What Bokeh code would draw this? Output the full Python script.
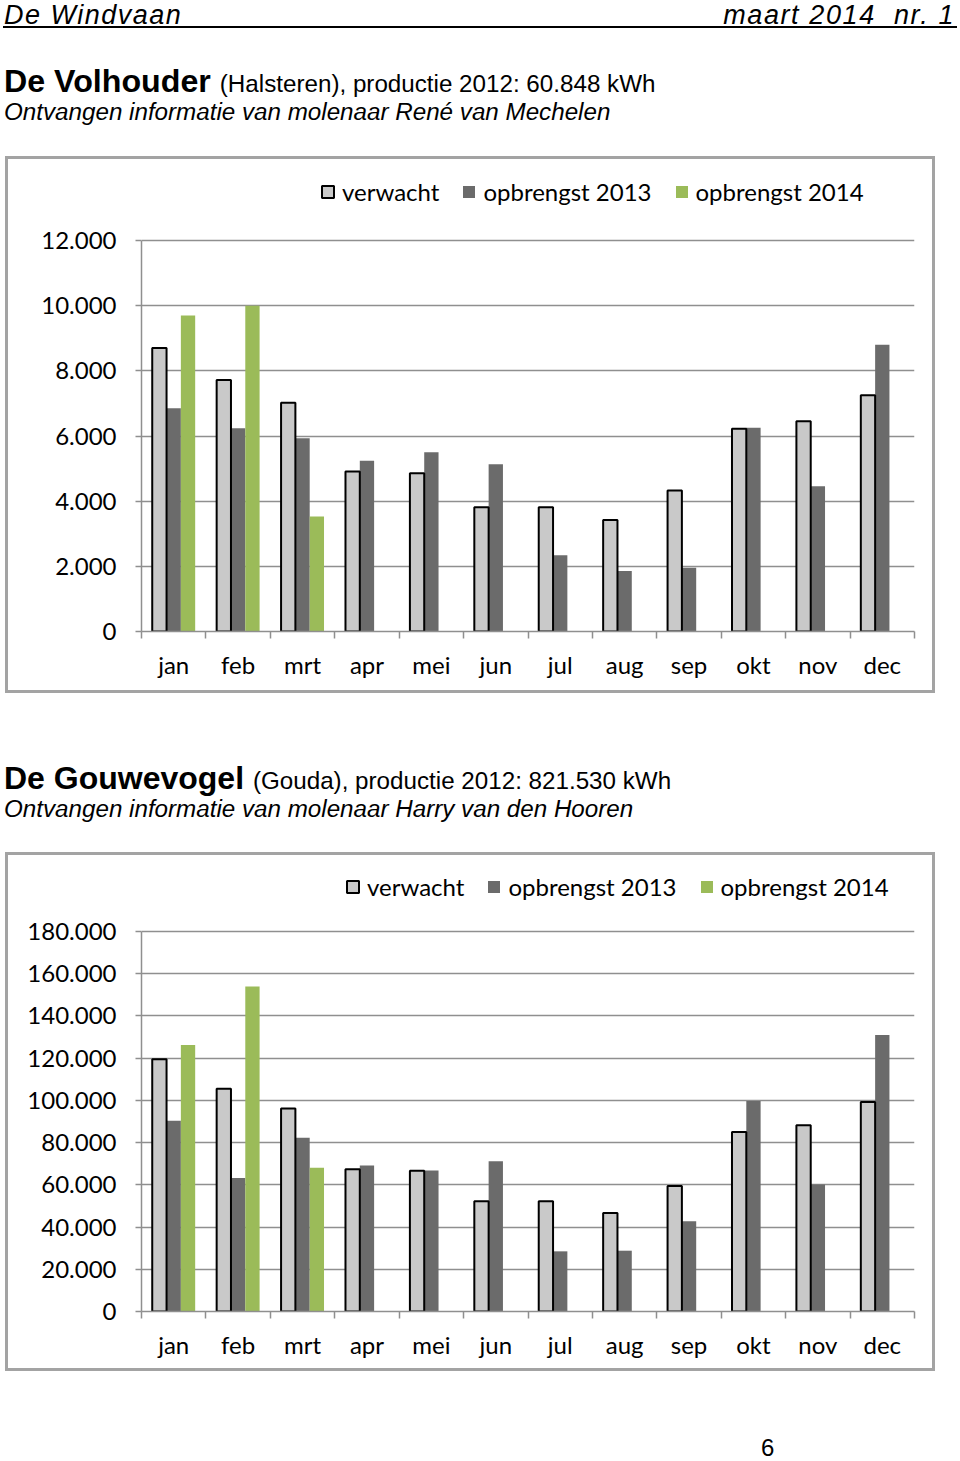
from bokeh.plotting import figure
from bokeh.models import (Range1d, FixedTicker, CustomJSTickFormatter,
                          Legend, LegendItem, Div, ColumnDataSource)
from bokeh.layouts import column
from bokeh.transform import dodge
from bokeh.core.properties import value
from bokeh.embed import file_html
from bokeh.resources import INLINE

# ---------------- data ----------------
months = ["jan", "feb", "mrt", "apr", "mei", "jun", "jul", "aug", "sep", "okt", "nov", "dec"]
series_labels = ["verwacht", "opbrengst 2013", "opbrengst 2014"]

volhouder_verwacht = [8700, 7720, 7020, 4910, 4860, 3810, 3810, 3420, 4330, 6220, 6450, 7250]
volhouder_2013 = [6850, 6240, 5930, 5240, 5500, 5130, 2340, 1860, 1960, 6250, 4460, 8800]
volhouder_2014 = [9700, 10000, 3530]

gouwevogel_verwacht = [119500, 105500, 96200, 67400, 66700, 52200, 52200, 46700, 59400, 85000, 88200, 99200]
gouwevogel_2013 = [90400, 63200, 82300, 69200, 66800, 71200, 28500, 28800, 42700, 99700, 60200, 131000]
gouwevogel_2014 = [126200, 154000, 68100]

C_VERW = "#c9c9c9"
C_2013 = "#6b6b6b"
C_2014 = "#9bbb59"
C_GRID = "#8f8f8f"
C_BOX = "#a3a3a3"
FONT = "Lato"
FIG_X = 5          # left edge of the chart box on the page
FIG_W = 930


def make_chart(verwacht, y2013, y2014, ytop, yint, height, frame_top, axis_top, frame_bottom,
               leg_x, leg_y):
    # frame spans frame_top..frame_bottom (px inside the figure); the axis maximum ytop sits at axis_top
    frame_h = frame_bottom - frame_top
    ymax = ytop * frame_h / (frame_bottom - axis_top)
    p = figure(width=FIG_W, height=height, x_range=Range1d(0, 12), y_range=Range1d(0, ymax),
               output_backend="svg", toolbar_location=None,
               min_border_left=141 - FIG_X, min_border_right=FIG_W - (914 - FIG_X),
               min_border_top=frame_top, min_border_bottom=height - frame_bottom,
               margin=(0, 0, 0, FIG_X))
    p.outline_line_color = None
    p.background_fill_color = "white"
    p.border_fill_color = None
    # grey frame around the whole chart (drawn by the host element, behind the transparent canvas border)
    p.styles = {"background-color": "white", "box-shadow": f"inset 0 0 0 3px {C_BOX}"}

    xs = [i + 0.5 for i in range(len(months))]
    src = ColumnDataSource(dict(x=xs, verwacht=verwacht, y2013=y2013))
    src14 = ColumnDataSource(dict(x=xs[:len(y2014)], y2014=y2014))
    w = 1 / 4.5

    r13 = p.vbar(x="x", top="y2013", width=w, source=src,
                 fill_color=C_2013, line_color=None)
    r14 = p.vbar(x=dodge("x", w, range=p.x_range), top="y2014", width=w, source=src14,
                 fill_color=C_2014, line_color=None)
    rv = p.vbar(x=dodge("x", -w, range=p.x_range), top="verwacht", width=w, source=src,
                fill_color=C_VERW, line_color="black", line_width=2)

    legend = Legend(items=[LegendItem(label=value(series_labels[0]), renderers=[rv]),
                           LegendItem(label=value(series_labels[1]), renderers=[r13]),
                           LegendItem(label=value(series_labels[2]), renderers=[r14])],
                    orientation="horizontal", location=(leg_x, leg_y),
                    glyph_width=15, glyph_height=15, label_standoff=7, spacing=22,
                    padding=0, margin=0, border_line_color=None, background_fill_alpha=0,
                    label_text_font=FONT, label_text_font_size="24px", label_text_color="black")
    p.add_layout(legend, "center")

    # x axis: labels at month centres, small ticks at the category boundaries
    p.xaxis.ticker = FixedTicker(ticks=xs, minor_ticks=list(range(len(months) + 1)))
    p.xaxis.formatter = CustomJSTickFormatter(args=dict(months=months),
                                              code="return months[Math.floor(tick)];")
    p.xaxis.major_tick_line_color = None
    p.xaxis.major_tick_out = 0
    p.xaxis.major_tick_in = 0
    p.xaxis.minor_tick_out = 7
    p.xaxis.minor_tick_in = 0
    p.xaxis.minor_tick_line_color = C_GRID
    p.xaxis.minor_tick_line_width = 1.5
    p.xaxis.axis_line_color = C_GRID
    p.xaxis.axis_line_width = 1.5
    p.xaxis.major_label_text_font = FONT
    p.xaxis.major_label_text_font_size = "24px"
    p.xaxis.major_label_text_color = "black"
    p.xaxis.major_label_standoff = 11
    p.xgrid.visible = False

    yt = FixedTicker(ticks=list(range(0, ytop + 1, yint)))
    p.yaxis.ticker = yt
    p.ygrid.ticker = yt
    p.yaxis.bounds = (0, ytop)
    p.yaxis.formatter = CustomJSTickFormatter(
        code="return String(Math.round(tick)).replace(/\\B(?=(\\d{3})+(?!\\d))/g, '.');")
    p.yaxis.minor_tick_line_color = None
    p.yaxis.major_tick_out = 6
    p.yaxis.major_tick_in = 0
    p.yaxis.major_tick_line_color = C_GRID
    p.yaxis.major_tick_line_width = 1.5
    p.yaxis.axis_line_color = C_GRID
    p.yaxis.axis_line_width = 1.5
    p.yaxis.major_label_text_font = FONT
    p.yaxis.major_label_text_font_size = "24px"
    p.yaxis.major_label_text_color = "black"
    p.yaxis.major_label_standoff = 19
    p.ygrid.grid_line_color = C_GRID
    p.ygrid.grid_line_width = 1.5
    return p


SANS = "'Liberation Sans', Arial, sans-serif"

header_html = f"""
<div style="position:relative;width:960px;height:156px;font-family:{SANS};color:#000;">
  <div style="position:absolute;left:3px;top:26px;width:954px;height:0;border-top:2px solid #000;"></div>
  <div style="position:absolute;left:4px;top:3px;font-size:27px;line-height:24px;font-style:italic;letter-spacing:1.5px;white-space:nowrap;">De Windvaan</div>
  <div style="position:absolute;right:5px;top:3px;font-size:27px;line-height:24px;font-style:italic;letter-spacing:1.6px;white-space:nowrap;">maart 2014&nbsp;&nbsp;nr. 1</div>
  <div style="position:absolute;left:4px;top:65px;font-size:32.2px;line-height:32px;white-space:nowrap;"><b>De Volhouder</b> <span style="font-size:24.2px;">(Halsteren), productie 2012: 60.848 kWh</span></div>
  <div style="position:absolute;left:4px;top:100px;font-size:24.2px;line-height:24px;font-style:italic;white-space:nowrap;">Ontvangen informatie van molenaar Ren&eacute; van Mechelen</div>
</div>
"""

title2_html = f"""
<div style="position:relative;width:960px;height:159px;font-family:{SANS};color:#000;">
  <div style="position:absolute;left:4px;top:69px;font-size:32px;line-height:32px;white-space:nowrap;"><b>De Gouwevogel</b> <span style="font-size:24.2px;">(Gouda), productie 2012: 821.530 kWh</span></div>
  <div style="position:absolute;left:4px;top:104px;font-size:24.2px;line-height:24px;font-style:italic;white-space:nowrap;">Ontvangen informatie van molenaar Harry van den Hooren</div>
</div>
"""

footer_html = f"""
<div style="position:relative;width:960px;height:90px;font-family:{SANS};color:#000;">
  <div style="position:absolute;left:761px;top:65px;font-size:24px;line-height:24px;">6</div>
</div>
"""

header = Div(text=header_html, width=960, height=156, margin=0)
chart1 = make_chart(volhouder_verwacht, volhouder_2013, volhouder_2014, 12000, 2000,
                    height=537, frame_top=20, axis_top=84, frame_bottom=475,
                    leg_x=179, leg_y=425)
title2 = Div(text=title2_html, width=960, height=159, margin=0)
chart2 = make_chart(gouwevogel_verwacht, gouwevogel_2013, gouwevogel_2014, 180000, 20000,
                    height=519, frame_top=16, axis_top=79, frame_bottom=459,
                    leg_x=204, leg_y=410)
footer = Div(text=footer_html, width=960, height=90, margin=0)

page = column(header, chart1, title2, chart2, footer, spacing=0)

open("out.html", "w").write(file_html(page, INLINE))
